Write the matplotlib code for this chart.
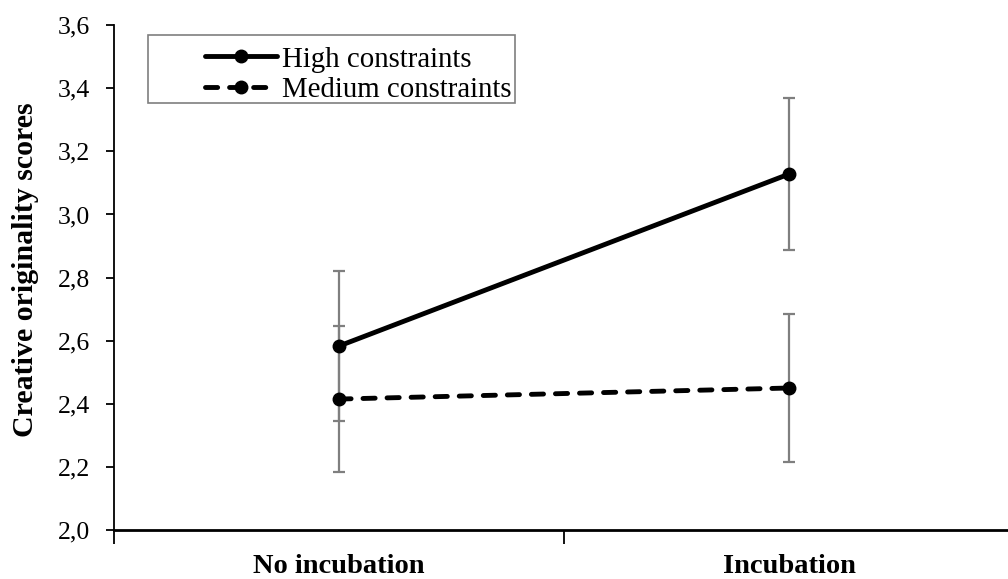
import matplotlib
matplotlib.use("Agg")
import matplotlib.pyplot as plt
from matplotlib.patches import Rectangle
from matplotlib.ticker import FixedLocator, FuncFormatter

conditions = ["No incubation", "Incubation"]
high_means = [2.583, 3.128]
high_err = [0.237, 0.240]
medium_means = [2.415, 2.450]
medium_err = [0.232, 0.233]
y_ticks = [2.0, 2.2, 2.4, 2.6, 2.8, 3.0, 3.2, 3.4, 3.6]

plt.rcParams['font.family'] = ['Liberation Serif', 'DejaVu Serif']

fig = plt.figure(figsize=(10.08, 5.79), dpi=100)
ax = fig.add_axes([0.113, 0.0846, 0.893, 0.872])

xpos = [0.5, 1.5]
err_kw = dict(fmt='none', ecolor='#7f7f7f', elinewidth=1.6, capsize=4, capthick=1.6, zorder=1)
ax.errorbar(xpos, high_means, yerr=high_err, **err_kw)
ax.errorbar(xpos, medium_means, yerr=medium_err, **err_kw)

ax.plot(xpos, high_means, color='black', lw=3.5, marker='o', ms=9,
        solid_capstyle='round', label='High constraints', zorder=3)
ax.plot(xpos, medium_means, color='black', lw=3.5, marker='o', ms=9,
        linestyle=(0, (2.5, 2.45)), dash_capstyle='round',
        label='Medium constraints', zorder=3)

ax.set_xlim(0, 2)
ax.set_ylim(2.0, 3.6)
ax.yaxis.set_major_locator(FixedLocator(y_ticks))
ax.yaxis.set_major_formatter(FuncFormatter(lambda v, p: f"{v:.1f}".replace('.', ',')))
ax.xaxis.set_major_locator(FixedLocator([0, 1, 2]))
ax.xaxis.set_major_formatter(FuncFormatter(lambda v, p: ''))
for x, name in zip(xpos, conditions):
    ax.text(x, -0.086, name, transform=ax.get_xaxis_transform(), ha='center', va='baseline',
            fontsize=20.5, fontweight='bold')

for s in ['top', 'right']:
    ax.spines[s].set_visible(False)
ax.spines['left'].set_linewidth(1.3)
ax.spines['bottom'].set_linewidth(2)
ax.tick_params(axis='y', direction='out', length=6, width=1.3, labelsize=18.5, pad=11)
ax.tick_params(axis='x', direction='out', length=10, width=1.3)

ax.set_ylabel('Creative originality scores', fontsize=21.5, fontweight='bold')
ax.yaxis.set_label_coords(-0.083, 0.515)

# legend box (drawn separately, wider than the entries)
ax.add_patch(Rectangle((0.038, 0.8455), 0.4076, 0.1345, transform=ax.transAxes,
                       facecolor='white', edgecolor='#7f7f7f', lw=1.2, zorder=4,
                       clip_on=False))
leg = ax.legend(loc='upper left', bbox_to_anchor=(0.101, 0.958), fontsize=20.8,
                handlelength=2.5, frameon=False, borderpad=0,
                labelspacing=0.15, handletextpad=0.18, borderaxespad=0)
leg.set_zorder(5)

fig.savefig('out.png', dpi=100)
